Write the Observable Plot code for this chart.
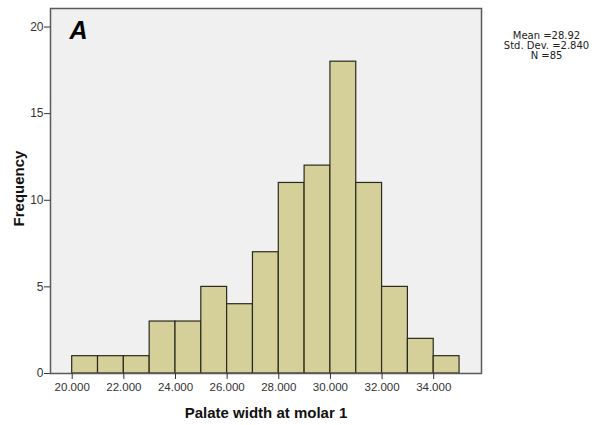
<!DOCTYPE html>
<html>
<head>
<meta charset="utf-8">
<script src="https://cdn.jsdelivr.net/npm/d3@7"></script>
<script src="https://cdn.jsdelivr.net/npm/@observablehq/plot@0.6"></script>
<style>
  body { margin: 0; background: #fff; }
</style>
</head>
<body>
<div id="chart"></div>
<script>
// Histogram bins (width 1) and their counts
const binEdges = [20, 21, 22, 23, 24, 25, 26, 27, 28, 29, 30, 31, 32, 33, 34, 35];
const frequencies = [1, 1, 1, 3, 3, 5, 4, 7, 11, 12, 18, 11, 5, 2, 1];
const xTicks = [20, 22, 24, 26, 28, 30, 32, 34];
const yTicks = [0, 5, 10, 15, 20];
const summaryLines = ["Mean =28.92", "Std. Dev. =2.840", "N =85"];
const panelLetter = "A";
const xTitle = "Palate width at molar 1";
const yTitle = "Frequency";

const bins = frequencies.map((n, i) => ({ x1: binEdges[i], x2: binEdges[i + 1], n }));

const chart = Plot.plot({
  width: 599,
  height: 425,
  marginLeft: 50,
  marginRight: 118,
  marginTop: 8,
  marginBottom: 52,
  style: { fontFamily: "Arial, 'Liberation Sans', sans-serif", background: "#fff", overflow: "visible" },
  x: { domain: [19.16, 35.85] },
  y: { domain: [0, 21.07] },
  marks: [
    Plot.frame({ fill: "#f0f0f0", stroke: null }),
    Plot.rectY(bins, { x1: "x1", x2: "x2", y: "n", fill: "#d5d09a", stroke: "#2a2a1c", strokeWidth: 1.2 }),
    Plot.frame({ stroke: "#5a5a5a", strokeWidth: 1.5 }),
    Plot.axisX({ ticks: xTicks, tickFormat: d3.format(".3f"), tickSize: 6, tickPadding: 3, fontSize: 11.5, color: "#333", label: null }),
    Plot.axisY({ ticks: yTicks, tickSize: 6, tickPadding: 1, fontSize: 12, color: "#333", label: null }),
    Plot.text([panelLetter], { frameAnchor: "top-left", dx: 19, dy: 13, text: d => d, fontSize: 25, fontWeight: "bold", fontStyle: "italic", textAnchor: "start", lineAnchor: "top", fill: "#000" }),
    Plot.text([summaryLines.join("\n")], { frameAnchor: "top-right", dx: 65, dy: 23, text: d => d, fontSize: 10, fontFamily: "'DejaVu Sans', sans-serif", lineHeight: 1.0, textAnchor: "middle", lineAnchor: "top", fill: "#222" }),
    Plot.text([yTitle], { frameAnchor: "left", dx: -31, dy: -2.5, text: d => d, rotate: -90, fontSize: 15, fontWeight: "bold", textAnchor: "middle", lineAnchor: "middle", fill: "#111" }),
    Plot.text([xTitle], { frameAnchor: "bottom", dx: 0, dy: 40, text: d => d, fontSize: 15, fontWeight: "bold", textAnchor: "middle", lineAnchor: "middle", fill: "#111" })
  ]
});

document.getElementById("chart").append(chart);
</script>
</body>
</html>
